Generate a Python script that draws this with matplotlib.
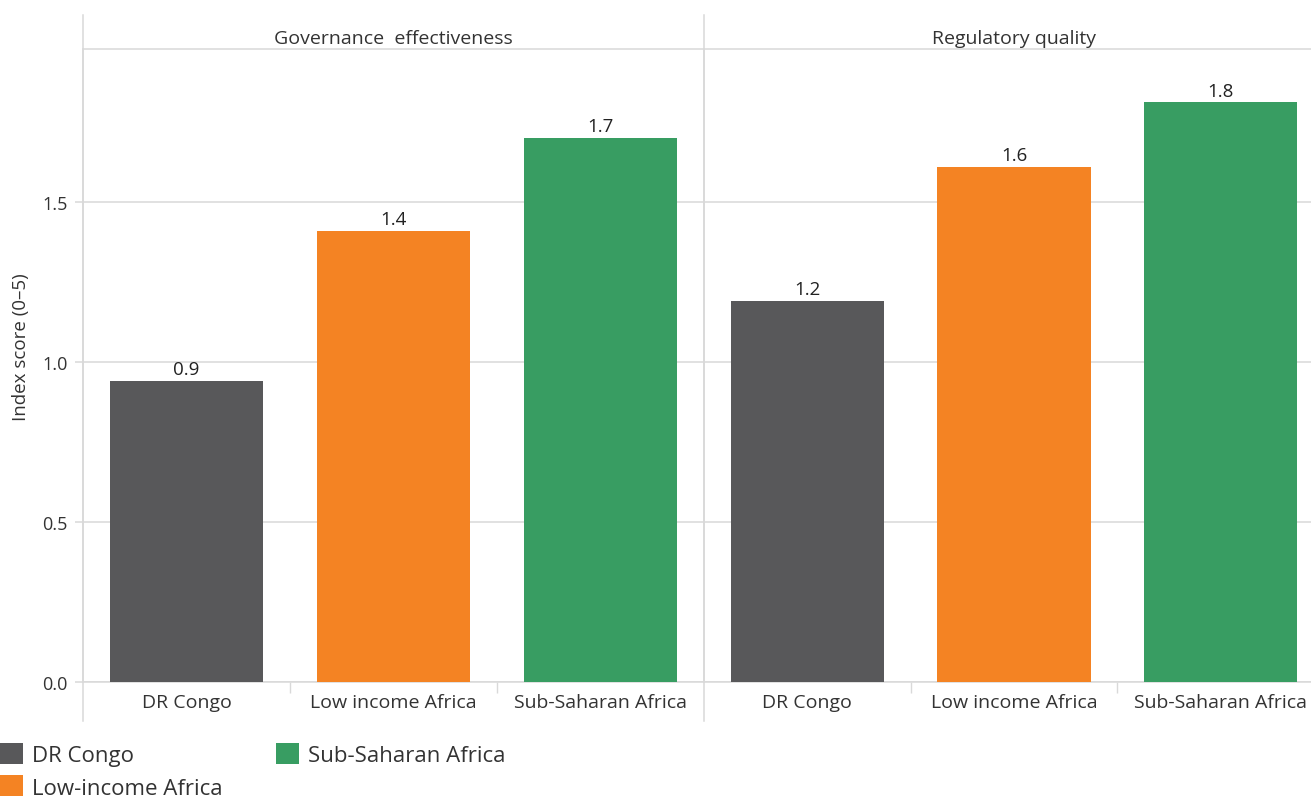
import numpy as np
import matplotlib
matplotlib.use("Agg")
import matplotlib.pyplot as plt
from matplotlib.lines import Line2D
from matplotlib.patches import Patch

plt.rcParams['font.family'] = ['Open Sans', 'DejaVu Sans']

# data
categories = ["DR Congo", "Low income Africa", "Sub-Saharan Africa"]
legend_labels = ["DR Congo", "Low-income Africa", "Sub-Saharan Africa"]
panel_titles = ["Governance  effectiveness", "Regulatory quality"]
gov_effectiveness = [0.94, 1.41, 1.70]
regulatory_quality = [1.19, 1.61, 1.81]
yticks = [0.0, 0.5, 1.0, 1.5]

colors = ["#58585a", "#f48323", "#389d62"]
grid_c = "#d9d9d9"
text_c = "#333333"

W, H = 1311, 803
fig = plt.figure(figsize=(W / 100, H / 100), dpi=100)

ax_bottom = 1 - 683 / H
ax_height = (683 - 50) / H
ax1 = fig.add_axes([83 / W, ax_bottom, 621 / W, ax_height])
ax2 = fig.add_axes([704 / W, ax_bottom, 620 / W, ax_height])

x = np.arange(len(categories))
for ax, vals, title in zip([ax1, ax2],
                           [gov_effectiveness, regulatory_quality],
                           panel_titles):
    bars = ax.bar(x, vals, width=0.742, color=colors, zorder=3)
    for b, v in zip(bars, vals):
        ax.annotate(f"{v:.1f}", (b.get_x() + b.get_width() / 2, v),
                    xytext=(0, 2), textcoords="offset points",
                    ha="center", va="bottom", fontsize=13.5, color="#222222")
    ax.set_xlim(-0.5, 2.5)
    ax.set_ylim(0, 1.977)
    ax.set_yticks(yticks)
    ax.yaxis.grid(True, color=grid_c, lw=1.1, zorder=0)
    ax.set_xticks(x)
    ax.set_xticklabels(categories, fontsize=14, color=text_c)
    ax.set_xticks([0.5, 1.5], minor=True)
    ax.tick_params(axis="x", which="major", length=0, pad=8)
    ax.tick_params(axis="x", which="minor", length=8, color=grid_c, width=1)
    ax.tick_params(axis="y", length=6, color=grid_c, width=1.1,
                   labelsize=13, labelcolor=text_c, pad=5)
    for s in ["left", "right", "top", "bottom"]:
        ax.spines[s].set_color(grid_c)
        ax.spines[s].set_linewidth(1.1)
    ax.spines["right"].set_visible(False)
    # left divider reaching up into the header strip and below the axis
    ax.add_line(Line2D([0, 0], [-0.062, 1.054], transform=ax.transAxes,
                       color=grid_c, lw=1.1, clip_on=False))
    ax.text(0.5, 1.017, title, transform=ax.transAxes, ha="center",
            va="center", fontsize=14, color=text_c)

ax2.tick_params(axis="y", length=0, labelleft=False)
ax1.set_ylabel("Index score (0–5)", fontsize=13.5, color=text_c)
ax1.yaxis.set_label_coords(-0.086, 0.53)

handles = [Patch(facecolor=c, edgecolor="none") for c in colors]
fig.legend(handles, legend_labels, loc="upper left",
           bbox_to_anchor=(0.0, 1 - 744 / H), ncol=2, frameon=False,
           fontsize=16, handlelength=1.04, handleheight=1.08,
           handletextpad=0.4, labelspacing=0.42, columnspacing=2.4,
           borderaxespad=0, borderpad=0, labelcolor=text_c)

fig.savefig("out.png", dpi=100)
